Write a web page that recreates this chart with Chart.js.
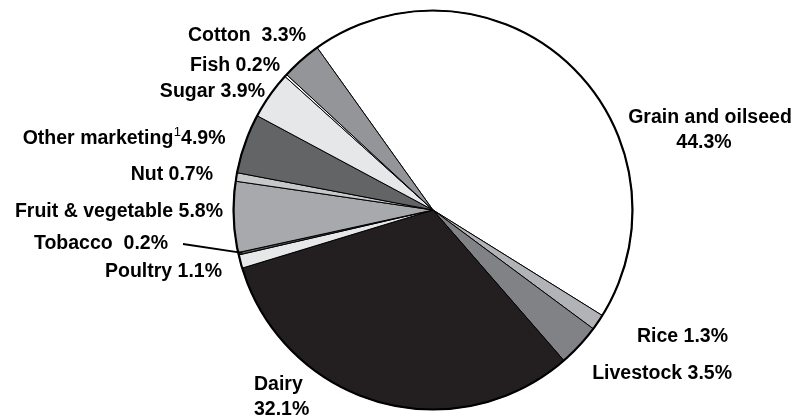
<!DOCTYPE html>
<html>
<head>
<meta charset="utf-8">
<script src="https://cdn.jsdelivr.net/npm/chart.js@4"></script>
<style>
  html, body { margin: 0; padding: 0; background: #fff; }
  #wrap { width: 794px; height: 419px; }
</style>
</head>
<body>
<div id="wrap"><canvas id="pieChart" width="794" height="419"></canvas></div>
<script>
// data (clockwise from the cotton / grain boundary)
const categories = ['Grain and oilseed', 'Rice', 'Livestock', 'Dairy', 'Poultry', 'Tobacco',
  'Fruit & vegetable', 'Nut', 'Other marketing', 'Sugar', 'Fish', 'Cotton'];
const shares = [44.3, 1.3, 3.5, 32.1, 1.1, 0.2, 5.8, 0.7, 4.9, 3.9, 0.2, 3.3];
const sliceColors = ['#ffffff', '#b1b3b6', '#808285', '#231f20', '#e6e7e8', '#58595b',
  '#a7a9ac', '#c7c8ca', '#636466', '#e6e7e8', '#ffffff', '#939598'];

// label placement: [x, y(baseline), align, split into two lines, gap]
const labelLayout = [
  [710, 123, 'center', true, ''],
  [728, 342, 'right', false, ' '],
  [732, 379, 'right', false, ' '],
  [254, 390, 'left', true, ''],
  [222, 277, 'right', false, ' '],
  [168, 249, 'right', false, '  '],
  [223, 217, 'right', false, ' '],
  [213, 180, 'right', false, ' '],
  [225, 144, 'right', false, ''],
  [265, 97, 'right', false, ' '],
  [280, 71, 'right', false, ' '],
  [306, 41, 'right', false, '  ']
];
const FONT = "bold 19.5px 'Liberation Sans', Arial, sans-serif";
const SUP_FONT = "13px 'Liberation Sans', Arial, sans-serif";

const pieLabels = {
  id: 'pieLabels',
  afterDatasetsDraw(chart) {
    const ctx = chart.ctx;
    const meta = chart.getDatasetMeta(0);
    const arc = meta.data[0];

    // thicker outer rim
    ctx.save();
    ctx.beginPath();
    ctx.arc(arc.x, arc.y, arc.outerRadius, 0, Math.PI * 2);
    ctx.lineWidth = 2.2;
    ctx.strokeStyle = '#000';
    ctx.stroke();
    ctx.restore();

    ctx.save();
    ctx.fillStyle = '#000';
    ctx.font = FONT;
    ctx.textBaseline = 'alphabetic';
    categories.forEach((name, i) => {
      const [x, y, align, twoLines, gap] = labelLayout[i];
      const pct = shares[i].toFixed(1) + '%';
      ctx.textAlign = align;
      if (twoLines) {
        if (align === 'center') {
          ctx.fillText(name, x, y);
          ctx.fillText(pct, x - 6, y + 25);
        } else {
          ctx.fillText(name, x, y);
          ctx.fillText(pct, x, y + 25);
        }
      } else if (name === 'Other marketing') {
        // footnote marker between name and value
        ctx.textAlign = 'left';
        const w1 = ctx.measureText(name).width;
        const w3 = ctx.measureText(pct).width;
        ctx.font = SUP_FONT;
        const w2 = ctx.measureText('1').width;
        const left = x - (w1 + w2 + w3);
        ctx.fillText('1', left + w1 + 0.5, y - 8);
        ctx.font = FONT;
        ctx.fillText(name, left, y);
        ctx.fillText(pct, left + w1 + w2 + 0.5, y);
      } else {
        ctx.fillText(name + gap + pct, x, y);
      }
    });

    // leader line for Tobacco
    const tob = meta.data[categories.indexOf('Tobacco')];
    const mid = (tob.startAngle + tob.endAngle) / 2;
    ctx.beginPath();
    ctx.moveTo(183, 244);
    ctx.lineTo(tob.x + Math.cos(mid) * (tob.outerRadius - 4), tob.y + Math.sin(mid) * (tob.outerRadius - 4));
    ctx.lineWidth = 2;
    ctx.strokeStyle = '#000';
    ctx.stroke();
    ctx.restore();
  }
};

new Chart(document.getElementById('pieChart'), {
  type: 'pie',
  data: {
    labels: categories,
    datasets: [{
      data: shares,
      backgroundColor: sliceColors,
      borderColor: '#000',
      borderWidth: 1
    }]
  },
  options: {
    responsive: false,
    animation: false,
    rotation: -35.5,
    layout: { padding: { left: 72, right: 0, top: 10, bottom: 9 } },
    plugins: {
      legend: { display: false },
      tooltip: { enabled: false }
    }
  },
  plugins: [pieLabels]
});
</script>
</body>
</html>
